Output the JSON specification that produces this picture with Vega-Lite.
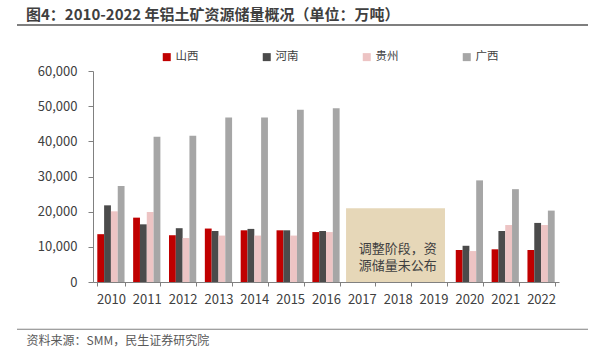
{
  "$schema": "https://vega.github.io/schema/vega-lite/v6.json",
  "autosize": {"type": "none"},
  "width": 571,
  "height": 309,
  "padding": {"left": 17, "top": 22, "right": 6, "bottom": 22},
  "background": "#ffffff",
  "config": {
    "font": "Noto Sans CJK SC",
    "view": {"stroke": null}
  },
  "title": {
    "text": "图4：2010-2022 年铝土矿资源储量概况（单位：万吨）",
    "anchor": "start",
    "frame": "group",
    "dx": 9,
    "offset": -1,
    "fontSize": 15,
    "fontWeight": "bold",
    "color": "#3f3f3f",
    "font": "Noto Sans CJK SC"
  },
  "datasets": {
    "bars": [
      {"year": "2010", "series": "山西", "value": 13600},
      {"year": "2010", "series": "河南", "value": 21800},
      {"year": "2010", "series": "贵州", "value": 20100},
      {"year": "2010", "series": "广西", "value": 27300},
      {"year": "2011", "series": "山西", "value": 18300},
      {"year": "2011", "series": "河南", "value": 16400},
      {"year": "2011", "series": "贵州", "value": 19900},
      {"year": "2011", "series": "广西", "value": 41300},
      {"year": "2012", "series": "山西", "value": 13300},
      {"year": "2012", "series": "河南", "value": 15300},
      {"year": "2012", "series": "贵州", "value": 12500},
      {"year": "2012", "series": "广西", "value": 41600},
      {"year": "2013", "series": "山西", "value": 15200},
      {"year": "2013", "series": "河南", "value": 14500},
      {"year": "2013", "series": "贵州", "value": 13200},
      {"year": "2013", "series": "广西", "value": 46800},
      {"year": "2014", "series": "山西", "value": 14700},
      {"year": "2014", "series": "河南", "value": 15100},
      {"year": "2014", "series": "贵州", "value": 13200},
      {"year": "2014", "series": "广西", "value": 46800},
      {"year": "2015", "series": "山西", "value": 14700},
      {"year": "2015", "series": "河南", "value": 14700},
      {"year": "2015", "series": "贵州", "value": 13200},
      {"year": "2015", "series": "广西", "value": 49000},
      {"year": "2016", "series": "山西", "value": 14200},
      {"year": "2016", "series": "河南", "value": 14500},
      {"year": "2016", "series": "贵州", "value": 14200},
      {"year": "2016", "series": "广西", "value": 49400},
      {"year": "2020", "series": "山西", "value": 9100},
      {"year": "2020", "series": "河南", "value": 10300},
      {"year": "2020", "series": "贵州", "value": 8800},
      {"year": "2020", "series": "广西", "value": 28900},
      {"year": "2021", "series": "山西", "value": 9300},
      {"year": "2021", "series": "河南", "value": 14500},
      {"year": "2021", "series": "贵州", "value": 16200},
      {"year": "2021", "series": "广西", "value": 26400},
      {"year": "2022", "series": "山西", "value": 9100},
      {"year": "2022", "series": "河南", "value": 16800},
      {"year": "2022", "series": "贵州", "value": 16200},
      {"year": "2022", "series": "广西", "value": 20300}
    ],
    "box": [{"year": "2017", "year2": "2019", "value": 0, "value2": 21000}],
    "note": [{"year": "2018", "value": 9400, "text": "调整阶段，资\n源储量未公布"}],
    "lines": [
      {"kind": "top", "lo": 72890, "hi": 73310},
      {"kind": "foot", "lo": -13590, "hi": -13310}
    ]
  },
  "resolve": {"scale": {"y": "independent"}},
  "layer": [
    {
      "encoding": {
        "x": {
          "field": "year", "type": "nominal",
          "scale": {
            "domain": ["2010","2011","2012","2013","2014","2015","2016","2017","2018","2019","2020","2021","2022"],
            "range": [76, 542],
            "paddingInner": 0.24, "paddingOuter": 0.12
          },
          "axis": {
            "offset": -49,
            "title": "资料来源：SMM，民生证券研究院", "titleAnchor": "start", "titleAlign": "left",
            "titleBaseline": "middle", "titleX": 9, "titleY": 58, "titleFontSize": 12,
            "titleFontWeight": "normal", "titleColor": "#595959",
            "domain": true, "domainColor": "#808080", "labelAngle": 0, "labelFontSize": 13,
            "labelColor": "#404040", "labelPadding": 7, "tickBand": "extent",
            "tickSize": 4, "tickColor": "#808080", "tickWidth": 1
          }
        },
        "y": {
          "field": "value", "type": "quantitative",
          "scale": {"domain": [0, 60000], "range": [260, 49], "nice": false, "zero": false},
          "axis": {
            "title": null, "grid": false, "offset": -76, "format": ",.0f",
            "values": [0, 10000, 20000, 30000, 40000, 50000, 60000],
            "labelFontSize": 13, "labelColor": "#404040", "labelPadding": 11,
            "labelOverlap": false,
            "tickSize": 5, "tickColor": "#808080", "domainColor": "#808080"
          }
        }
      },
      "layer": [
        {
          "data": {"name": "box"},
          "mark": {"type": "rect", "color": "#e6d7b8", "clip": false},
          "encoding": {
            "x": {
              "field": "year", "type": "nominal", "bandPosition": -0.08,
              "scale": {
                "domain": ["2010","2011","2012","2013","2014","2015","2016","2017","2018","2019","2020","2021","2022"],
                "range": [76, 542],
                "paddingInner": 0.24, "paddingOuter": 0.12
              },
              "axis": {
                "offset": -49,
                "title": "资料来源：SMM，民生证券研究院", "titleAnchor": "start", "titleAlign": "left",
                "titleBaseline": "middle", "titleX": 9, "titleY": 58, "titleFontSize": 12,
                "titleFontWeight": "normal", "titleColor": "#595959",
                "domain": true, "domainColor": "#808080", "labelAngle": 0, "labelFontSize": 13,
                "labelColor": "#404040", "labelPadding": 7, "tickBand": "extent",
                "tickSize": 4, "tickColor": "#808080", "tickWidth": 1
              }
            },
            "x2": {"field": "year2", "bandPosition": 0.92},
            "y2": {"field": "value2"}
          }
        },
        {
          "data": {"name": "note"},
          "mark": {"type": "text", "fontSize": 13, "color": "#404040", "lineHeight": 17, "baseline": "middle", "align": "center", "lineBreak": "\n", "clip": false},
          "encoding": {
            "text": {"field": "text"}
          }
        },
        {
          "data": {"name": "bars"},
          "mark": {"type": "bar", "clip": false},
          "encoding": {
            "xOffset": {
              "field": "series", "type": "nominal",
              "scale": {"domain": ["山西", "河南", "贵州", "广西"], "paddingInner": 0, "paddingOuter": 0}
            },
            "color": {
              "field": "series", "type": "nominal",
              "scale": {"domain": ["山西", "河南", "贵州", "广西"], "range": ["#c00000", "#4b4b4b", "#edc4c4", "#a6a6a6"]},
              "legend": {
                "title": null, "orient": "none", "direction": "horizontal", "columns": 4,
                "legendX": 144, "legendY": 29, "symbolType": "square", "symbolSize": 64,
                "symbolStrokeWidth": 0, "labelFontSize": 11.5, "labelColor": "#404040",
                "labelOffset": 3, "columnPadding": 62
              }
            }
          }
        }
      ]
    },
    {
      "data": {"name": "lines"},
      "mark": {"type": "rect", "clip": false},
      "encoding": {
        "x": {"value": 0},
        "x2": {"value": "width"},
        "y": {
          "field": "lo", "type": "quantitative",
          "scale": {"domain": [-14000, 74000], "range": [309.2, -0.2], "nice": false, "zero": false},
          "axis": null
        },
        "y2": {"field": "hi"},
        "fill": {
          "field": "kind", "type": "nominal",
          "scale": {"domain": ["top", "foot"], "range": ["#555555", "#808080"]},
          "legend": null
        }
      }
    }
  ]
}
